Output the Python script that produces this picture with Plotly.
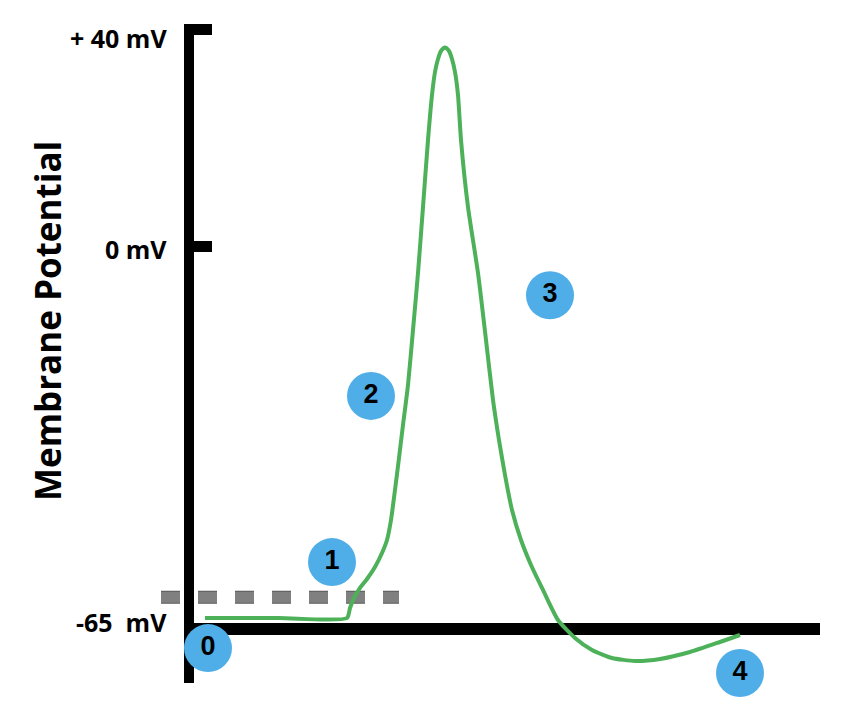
import plotly.graph_objects as go

# ---- data (time in ms, schematic; voltage in mV) ----
t_ms = [0.16, 0.90, 1.58, 1.61, 1.65, 1.71, 1.78, 1.86, 1.93, 1.98, 2.02, 2.06, 2.10, 2.14, 2.19, 2.24,
        2.29, 2.34, 2.39, 2.43, 2.46, 2.49, 2.52, 2.56, 2.60, 2.63, 2.66, 2.69, 2.72, 2.79, 2.89,
        2.97, 3.04, 3.10, 3.16, 3.23, 3.32, 3.42, 3.54, 3.69, 3.86, 4.03, 4.23, 4.46, 4.71, 5.01,
        5.31, 5.51]
v_mV = [-68.64, -68.64, -68.64, -66.79, -64.94, -63.09, -61.43, -59.21, -56.63, -54.23, -50.53, -44.98, -39.07,
        -32.98, -25.59, -15.43, -4.90, 7.30, 19.68, 27.99, 32.24, 34.64, 36.12, 36.77, 36.12, 34.64,
        32.24, 27.99, 19.68, 7.30, -4.90, -17.27, -28.36, -35.75, -42.22, -48.68, -54.23, -58.84,
        -63.46, -69.01, -72.33, -74.55, -76.03, -76.58, -76.21, -74.92, -73.07, -71.78]

threshold_mV = -64.8
threshold_t = [-0.28, 2.10]

phase_labels = ["0", "1", "2", "3", "4"]
phase_t = [0.19, 1.43, 1.82, 3.61, 5.51]
phase_v = [-74.2, -58.3, -27.6, -9.0, -78.8]

tick_text = ["+ 40 mV", "0 mV", "-65  mV"]
tick_pos = [38.6, -0.5, -69.4]

# ---- layout constants ----
PAGE_OFFSET = 8.0          # default body margin of the html page
PX_PER_MS = 100.0
PX_PER_MV = 5.4125
X0_PX = 189.0 - PAGE_OFFSET
Y0_PX = 246.5 - PAGE_OFFSET
W, H = 862, 704

GREEN = "#4DB15A"
BLUE = "#4FAEE8"


def px_to_t(px):
    return (px - PAGE_OFFSET - X0_PX) / PX_PER_MS


def py_to_v(py):
    return (Y0_PX - (py - PAGE_OFFSET)) / PX_PER_MV


fig = go.Figure()

# threshold dashed line (dark rim + grey fill)
fig.add_trace(go.Scatter(
    x=threshold_t, y=[threshold_mV, threshold_mV], mode="lines",
    line=dict(color="#5a5a5a", width=13, dash="19px,18px"),
    hoverinfo="skip", showlegend=False))
fig.add_trace(go.Scatter(
    x=threshold_t, y=[threshold_mV, threshold_mV], mode="lines",
    line=dict(color="#808080", width=11, dash="19px,18px"),
    hoverinfo="skip", showlegend=False))

# action potential
fig.add_trace(go.Scatter(
    x=t_ms, y=v_mV, mode="lines",
    line=dict(color=GREEN, width=4, shape="spline", smoothing=0.6),
    hoverinfo="skip", showlegend=False))

shapes = []


def bar(px0, px1, py0, py1):
    shapes.append(dict(type="rect", xref="x", yref="y",
                       x0=px_to_t(px0), x1=px_to_t(px1), y0=py_to_v(py0), y1=py_to_v(py1),
                       fillcolor="black", line=dict(width=0), layer="below"))


bar(184, 194, 24, 683)   # y axis
bar(184, 212, 24, 35)    # +40 tick
bar(184, 212, 241, 252)  # 0 tick
bar(184, 820, 623, 635)  # x axis
fig.update_layout(shapes=shapes)

# phase markers
fig.add_trace(go.Scatter(
    x=phase_t, y=phase_v, mode="markers+text", text=phase_labels,
    textposition="middle center",
    marker=dict(size=48, color=BLUE, line=dict(width=0)),
    textfont=dict(family="Liberation Sans, Arial", size=27, color="black", weight="bold"),
    hoverinfo="skip", showlegend=False))

annotations = []
for txt, pos in zip(tick_text, tick_pos):
    annotations.append(dict(x=px_to_t(169), y=pos, xref="x", yref="y", text=txt,
                            showarrow=False, xanchor="right", yanchor="middle",
                            font=dict(family="Open Sans", size=25, color="black", weight=700)))
annotations.append(dict(x=px_to_t(47), y=py_to_v(321), xref="x", yref="y",
                        text="Membrane Potential", textangle=-90, showarrow=False,
                        xanchor="center", yanchor="middle",
                        font=dict(family="Open Sans", size=35, color="black", weight=700)))
fig.update_layout(annotations=annotations)

fig.update_layout(
    width=W, height=H, margin=dict(l=0, r=0, t=0, b=0),
    plot_bgcolor="white", paper_bgcolor="white",
    xaxis=dict(range=[px_to_t(PAGE_OFFSET), px_to_t(W + PAGE_OFFSET)], visible=False, fixedrange=True),
    yaxis=dict(range=[py_to_v(H + PAGE_OFFSET), py_to_v(PAGE_OFFSET)], visible=False, fixedrange=True),
)

fig.write_html("out.html")
